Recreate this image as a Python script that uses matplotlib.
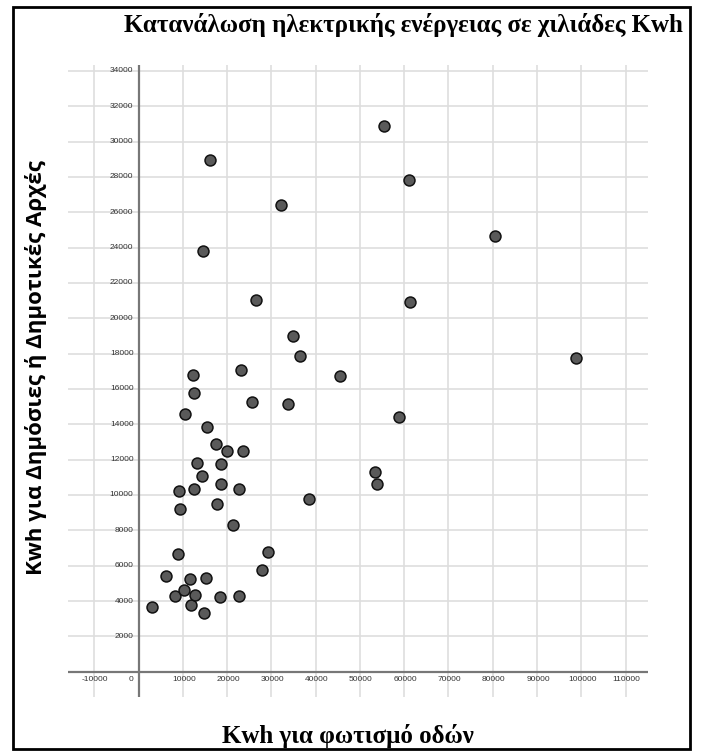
import matplotlib
matplotlib.use("Agg")
import matplotlib.pyplot as plt
from matplotlib.patches import Rectangle

W, H, DPI = 701, 751, 100

street_kwh = [3140, 6300, 8180, 10370, 11800, 12700, 11570, 15340, 14800, 18500,
              22720, 8930, 27840, 29270, 21360, 9380, 9240, 12540, 17740, 18640,
              22640, 14280, 13220, 18640, 17600, 20000, 23620, 15480, 10510, 12540,
              12250, 23030, 25580, 33790, 34780, 36430, 45470, 38390, 16160, 14580,
              32200, 26640, 55480, 61060, 61290, 80570, 98800, 58800, 53380, 53900]
public_kwh = [3680, 5430, 4300, 4605, 3775, 4360, 5245, 5320, 3340, 4245,
              4300, 6660, 5755, 6775, 8320, 9190, 10245, 10340, 9490, 10620,
              10320, 11075, 11810, 11770, 12890, 12490, 12510, 13830, 14565, 15770,
              16810, 17075, 15245, 15130, 19015, 17850, 16715, 9755, 28960, 23810,
              26430, 21035, 30880, 27830, 20940, 24675, 17770, 14400, 11320, 10600]

x_ticks = list(range(-10000, 110001, 10000))
y_ticks = list(range(2000, 34001, 2000))

title = "Κατανάλωση ηλεκτρικής ενέργειας σε χιλιάδες Kwh"
xlabel = "Kwh για φωτισμό οδών"
ylabel = "Kwh για Δημόσιες ή Δημοτικές Αρχές"

fig = plt.figure(figsize=(W / DPI, H / DPI), dpi=DPI)
fig.patch.set_facecolor("white")

# axes placement in pixels
L, R, T, B = 67.7, 647.7, 65, 696.7
ax = fig.add_axes([L / W, 1 - B / H, (R - L) / W, (B - T) / H])
ax.set_xlim(-16000, 115000)
ax.set_ylim(-1415, 34335)
for s in ax.spines.values():
    s.set_visible(False)
ax.set_xticks([])
ax.set_yticks([])

grid_c = "#dedede"
for xv in x_ticks:
    if xv != 0:
        ax.axvline(xv, color=grid_c, lw=1.2, zorder=1)
for yv in y_ticks:
    ax.axhline(yv, color=grid_c, lw=1.2, zorder=1)
ax.axhline(0, color="#777777", lw=1.6, zorder=2)
ax.axvline(0, color="#777777", lw=1.6, zorder=2)

tick_font = dict(family="Liberation Sans", fontsize=6, color="#333333")
for xv in x_ticks:
    if xv == 0:
        ax.annotate("0", (0, 0), xytext=(-7.5, -8), textcoords="offset pixels",
                    ha="center", va="center", **tick_font)
    else:
        ax.annotate(str(xv), (xv, 0), xytext=(1, -8), textcoords="offset pixels",
                    ha="center", va="center", **tick_font)
for yv in y_ticks:
    ax.annotate(str(yv), (0, yv), xytext=(-5, 0), textcoords="offset pixels",
                ha="right", va="center", **tick_font)

ax.scatter(street_kwh, public_kwh, s=62, facecolor="#5a5a5a", edgecolor="#111111",
           linewidths=1.1, zorder=5)

fig.text(403 / W, 1 - 32 / H, title, family="Liberation Serif", fontweight="bold",
         fontsize=18, ha="center", va="baseline", color="black")
fig.text(348 / W, 1 - 742.7 / H, xlabel, family="Liberation Serif", fontweight="bold",
         fontsize=18, ha="center", va="baseline", color="black")
fig.text(36 / W, 1 - 368 / H, ylabel, family="Open Sans", fontweight="bold",
         fontsize=16, ha="center", va="center", rotation=90, color="black")

fig.patches.append(Rectangle((13 / W, 1 - 749 / H), (690 - 13) / W, (749 - 7) / H,
                             transform=fig.transFigure, fill=False, edgecolor="black",
                             lw=2.0))

fig.savefig("out.png", dpi=DPI)
